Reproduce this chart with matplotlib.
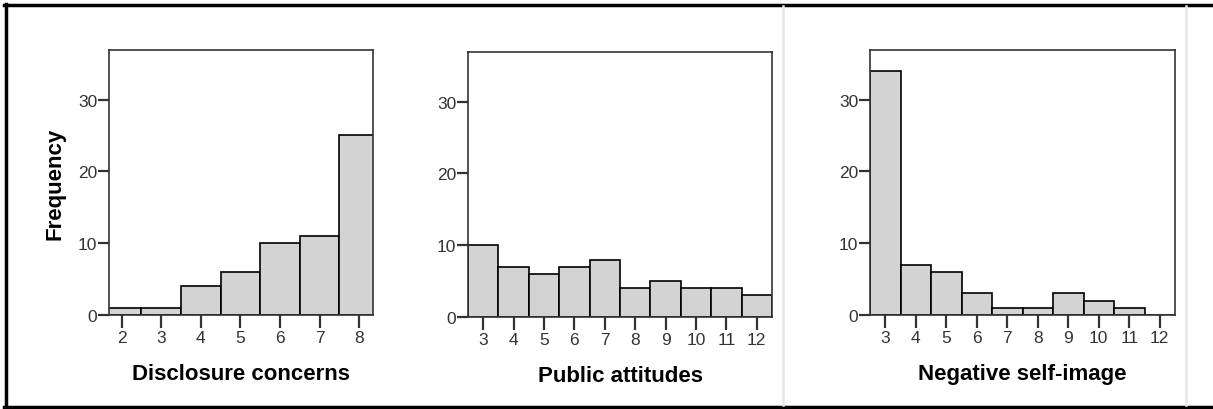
import matplotlib
matplotlib.use('Agg')
from matplotlib import pyplot as plt
from matplotlib.lines import Line2D

# Frequencies
disclosure_x = [2, 3, 4, 5, 6, 7, 8]
disclosure_freq = [1, 1, 4, 6, 10, 11, 25]

public_x = [3, 4, 5, 6, 7, 8, 9, 10, 11, 12]
public_freq = [10, 7, 6, 7, 8, 4, 5, 4, 4, 3]

selfimage_x = [3, 4, 5, 6, 7, 8, 9, 10, 11, 12]
selfimage_freq = [34, 7, 6, 3, 1, 1, 3, 2, 1, 0]

plt.rcParams['font.family'] = ['Liberation Sans', 'DejaVu Sans']

W, H = 1213, 410
fig = plt.figure(figsize=(W / 100, H / 100), dpi=100)


def px_axes(left, right, top, bottom):
    return fig.add_axes([left / W, (H - bottom) / H, (right - left) / W, (bottom - top) / H])


def hist_panel(ax, xs, freqs, xlim, xlabel):
    ax.bar(xs, freqs, width=1.0, color='#d3d3d3', edgecolor='black', linewidth=1.2)
    ax.set_xlim(*xlim)
    ax.set_ylim(0, 36.9)
    ax.set_yticks([0, 10, 20, 30])
    ax.set_xticks(xs)
    for s in ax.spines.values():
        s.set_color('#333333')
        s.set_linewidth(1.2)
    ax.tick_params(axis='y', direction='out', length=8, width=1.6, color='#333333',
                   labelsize=12.5, labelcolor='#333333', pad=0.5)
    ax.tick_params(axis='x', direction='out', length=9, width=1.6, color='#333333',
                   labelsize=12.5, labelcolor='#333333', pad=1.5)
    ax.set_xlabel(xlabel, fontsize=16, fontweight='bold', labelpad=13)


ax1 = px_axes(109, 373, 51, 316)
hist_panel(ax1, disclosure_x, disclosure_freq, (1.68, 8.35), 'Disclosure concerns')
ax1.set_ylabel('Frequency', fontsize=16, fontweight='bold', labelpad=9)

ax2 = px_axes(468, 772, 53, 318)
hist_panel(ax2, public_x, public_freq, (2.5, 12.5), 'Public attitudes')

ax3 = px_axes(870, 1175, 51, 316)
hist_panel(ax3, selfimage_x, selfimage_freq, (2.5, 12.5), 'Negative self-image')

# outer frame and faint panel separators
def fx(p):
    return p / W


def fy(p):
    return (H - p) / H


fig.add_artist(Line2D([fx(4), fx(W)], [fy(6), fy(6)], color='black', lw=2.5))
fig.add_artist(Line2D([fx(4), fx(W)], [fy(408), fy(408)], color='black', lw=2.5))
fig.add_artist(Line2D([fx(6), fx(6)], [fy(5), fy(409)], color='black', lw=2.5))
for sx in (783, 1186):
    fig.add_artist(Line2D([fx(sx), fx(sx)], [fy(7), fy(406)], color='#e6e6e6', lw=1.8))

fig.savefig('out.png', dpi=100)
